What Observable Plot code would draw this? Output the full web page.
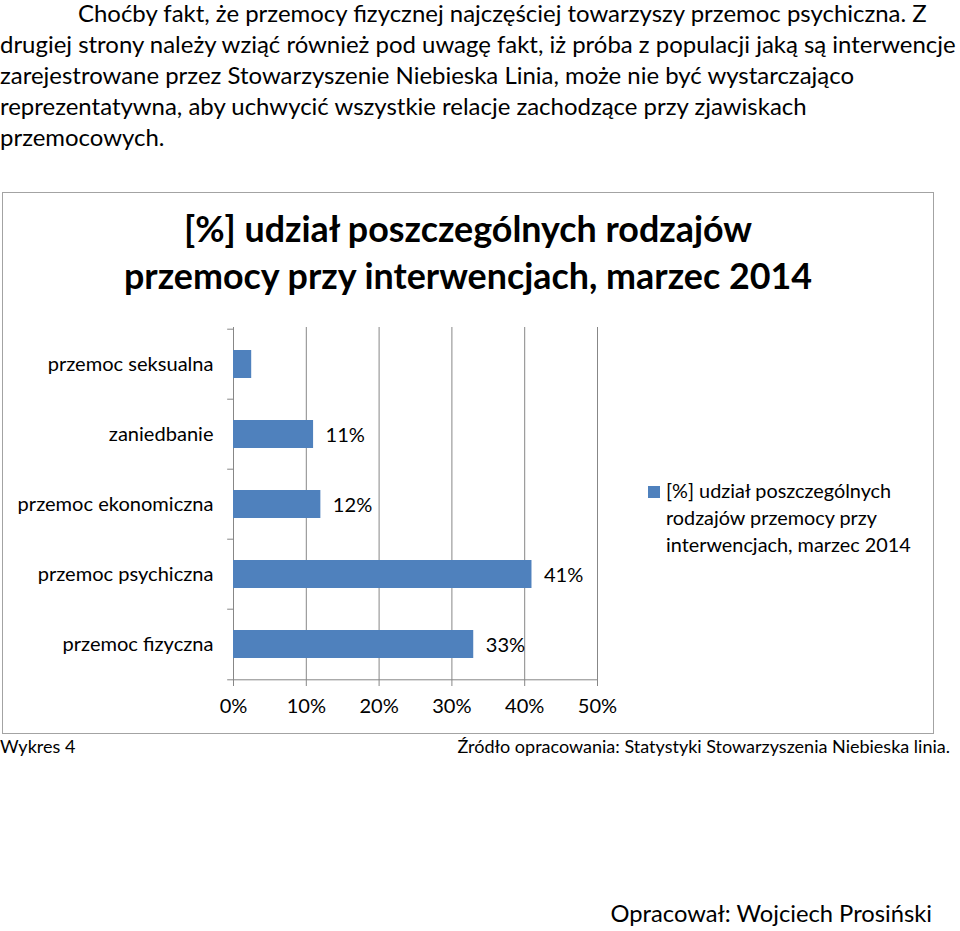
<!DOCTYPE html>
<html>
<head>
<meta charset="utf-8">
<script src="https://cdn.jsdelivr.net/npm/d3@7"></script>
<script src="https://cdn.jsdelivr.net/npm/@observablehq/plot@0.6"></script>
<style>
  body { margin: 0; background: #fff; color: #000; font-family: Lato, "Open Sans", sans-serif; }
  #page { position: relative; width: 960px; height: 931px; overflow: hidden; background: #fff; }
  .t { position: absolute; white-space: nowrap; font-family: Lato, sans-serif; color: #000; }
</style>
</head>
<body>
<div id="page"></div>
<script>
// ---------- data ----------
const paragraphLines = [
  "Choćby fakt, że przemocy fizycznej najczęściej towarzyszy przemoc psychiczna. Z",
  "drugiej strony należy wziąć również pod uwagę fakt, iż próba z populacji jaką są interwencje",
  "zarejestrowane przez Stowarzyszenie Niebieska Linia, może nie być wystarczająco",
  "reprezentatywna, aby uchwycić wszystkie relacje zachodzące przy zjawiskach",
  "przemocowych."
];
const titleLines = ["[%] udział poszczególnych rodzajów", "przemocy przy interwencjach, marzec 2014"];
const categories = ["przemoc seksualna", "zaniedbanie", "przemoc ekonomiczna", "przemoc psychiczna", "przemoc fizyczna"];
const values = [2.5, 11, 12, 41, 33];
const valueLabels = ["", "11%", "12%", "41%", "33%"];
const xTicks = [0, 10, 20, 30, 40, 50];
const legendLines = ["[%] udział poszczególnych", "rodzajów przemocy przy", "interwencjach, marzec 2014"];
const figureLabel = "Wykres 4";
const sourceNote = "Źródło opracowania: Statystyki Stowarzyszenia Niebieska linia.";
const authorNote = "Opracował: Wojciech Prosiński";

const data = categories.map((c, i) => ({category: c, value: values[i], label: valueLabels[i]}));

// ---------- helpers ----------
const page = document.getElementById("page");
const ctx = document.createElement("canvas").getContext("2d");
function fit(text, target, weight = "normal") {
  ctx.font = `${weight} 100px Lato`;
  return 100 * target / ctx.measureText(text).width;
}
function addText(str, {x, anchor = "start", baseline, size, weight = "normal"}) {
  const d = document.createElement("div");
  d.className = "t";
  d.textContent = str;
  d.style.fontSize = size + "px";
  d.style.lineHeight = size + "px";
  d.style.fontWeight = weight;
  d.style.top = (baseline - 0.887 * size) + "px";
  if (anchor === "start") d.style.left = x + "px";
  else if (anchor === "end") d.style.right = (960 - x) + "px";
  else { d.style.left = x + "px"; d.style.transform = "translateX(-50%)"; }
  page.appendChild(d);
  return d;
}

// ---------- paragraph ----------
const pSize = fit(paragraphLines[1], 958);
paragraphLines.forEach((l, i) => addText(l, {x: i === 0 ? 78 : 0, baseline: 22 + 31 * i, size: pSize}));

// ---------- chart box ----------
const box = document.createElement("div");
Object.assign(box.style, {position: "absolute", left: "2px", top: "192px", width: "932px", height: "542px",
  border: "1px solid #a3a3a3", boxSizing: "border-box"});
page.appendChild(box);

const tSize = fit(titleLines[1], 690, "bold");
titleLines.forEach((l, i) => addText(l, {x: 468, anchor: "middle", baseline: 243 + 47 * i, size: tSize, weight: "bold"}));

// ---------- plot ----------
const cSize = fit("przemoc ekonomiczna", 196);
const W = 640, H = 440, mT = 27, mB = 60, mL = 233, mR = 43;
const step = (H - mT - mB) / categories.length;
const grey = "#878787";
const chart = Plot.plot({
  width: W, height: H,
  marginTop: mT, marginBottom: mB, marginLeft: mL, marginRight: mR,
  style: {fontFamily: "Lato, sans-serif", fontSize: cSize + "px", color: "#000", background: "transparent", overflow: "visible"},
  x: {domain: [0, 50], label: null},
  y: {domain: categories, paddingInner: 0.6, paddingOuter: 0.3, label: null},
  marks: [
    Plot.ruleX(xTicks, {stroke: grey, strokeWidth: 1}),
    Plot.ruleY(categories, {y: d => d, x1: -0.8, x2: 0, dy: -step / 2, stroke: grey}),
    Plot.ruleY(categories.slice(-1), {y: d => d, x1: -0.8, x2: 50, dy: step / 2, stroke: grey}),
    Plot.barX(data, {x: "value", y: "category", fill: "#4F81BD"}),
    Plot.text(data.filter(d => d.label), {x: "value", y: "category", text: "label", textAnchor: "start", dx: 12, dy: 1, fill: "#000"}),
    Plot.axisY({tickSize: 0, tickPadding: 20, fill: "#000"}),
    Plot.axisX({ticks: xTicks, tickFormat: d => d + "%", tickSize: 6, tickPadding: 12, stroke: grey, fill: "#000"})
  ]
});
const holder = document.createElement("div");
Object.assign(holder.style, {position: "absolute", left: "0px", top: "300px"});
holder.appendChild(chart);
page.appendChild(holder);

// ---------- legend ----------
const lSize = fit(legendLines[2], 245);
const sw = document.createElement("div");
Object.assign(sw.style, {position: "absolute", left: "648px", top: "486px", width: "12px", height: "12px", background: "#4F81BD"});
page.appendChild(sw);
legendLines.forEach((l, i) => addText(l, {x: 666, baseline: 499 + 27 * i, size: lSize}));

// ---------- footer ----------
const fSize = fit(sourceNote, 493);
addText(figureLabel, {x: 0, baseline: 753, size: fSize});
addText(sourceNote, {x: 950, anchor: "end", baseline: 753, size: fSize});
addText(authorNote, {x: 932, anchor: "end", baseline: 923, size: fit(authorNote, 322)});
</script>
</body>
</html>
